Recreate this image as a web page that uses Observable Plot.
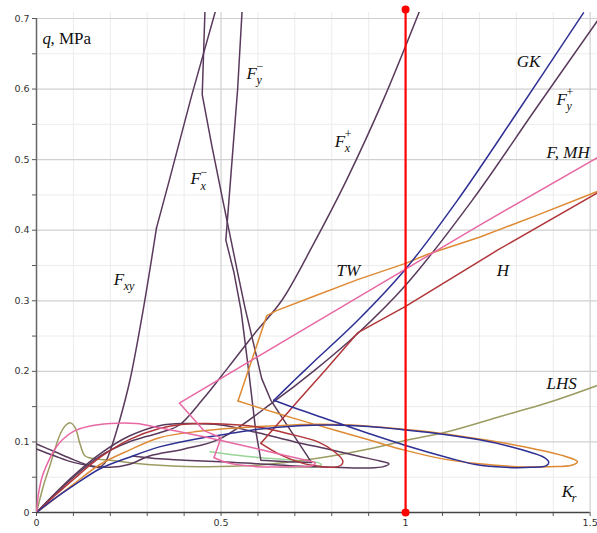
<!DOCTYPE html>
<html><head><meta charset="utf-8">
<script src="https://cdn.jsdelivr.net/npm/d3@7"></script>
<script src="https://cdn.jsdelivr.net/npm/@observablehq/plot@0.6"></script>
<style>body{margin:0;background:#fff}</style>
</head><body><div id="chart"></div>
<script>
// ---- data (K_r, q in MPa) ----
// GK: loop, then rising branch
const gkLoopX = [0,0.05,0.1,0.172,0.25,0.333,0.44,0.55,0.6,0.71,0.8,0.9,1.0,1.1,1.2,1.28,1.34,1.375,1.388,1.38,1.34,1.27,1.19,1.12,1.0,0.9,0.8,0.7,0.643];
const gkLoopY = [0,0.02,0.038,0.062,0.078,0.093,0.105,0.114,0.118,0.123,0.124,0.122,0.117,0.111,0.103,0.094,0.085,0.078,0.071,0.066,0.064,0.064,0.068,0.077,0.095,0.112,0.13,0.148,0.159];
const gkRiseX = [0.643,0.7,0.75,0.87,1.0,1.14,1.3,1.482];
const gkRiseY = [0.159,0.188,0.213,0.272,0.345,0.442,0.565,0.708];

// TW
const twLoopX = [0,0.05,0.1,0.172,0.25,0.333,0.44,0.55,0.65,0.75,0.85,0.95,1.05,1.15,1.25,1.35,1.43,1.466,1.45,1.39,1.3,1.2,1.1,1.0,0.9,0.8,0.7,0.6,0.546];
const twLoopY = [0,0.02,0.04,0.068,0.088,0.106,0.115,0.12,0.123,0.125,0.124,0.12,0.115,0.108,0.1,0.09,0.08,0.072,0.067,0.065,0.065,0.069,0.076,0.088,0.103,0.118,0.133,0.149,0.158];
const twRiseX = [0.546,0.624,0.65,0.75,0.87,1.0,1.06,1.2,1.35,1.52];
const twRiseY = [0.158,0.279,0.286,0.306,0.33,0.353,0.366,0.39,0.42,0.455];

// H
const hLoopX = [0,0.05,0.1,0.172,0.25,0.333,0.4,0.46,0.55,0.6,0.68,0.763,0.81,0.83,0.825,0.8,0.76,0.72,0.66,0.608];
const hLoopY = [0,0.024,0.047,0.078,0.103,0.119,0.125,0.126,0.124,0.121,0.112,0.1,0.085,0.073,0.067,0.064,0.066,0.07,0.082,0.098];
const hRiseX = [0.608,0.71,0.78,0.871,1.0,1.25,1.52];
const hRiseY = [0.098,0.159,0.2,0.255,0.292,0.372,0.453];

// F (pink)
const fLoopX = [0,0.005,0.015,0.03,0.05,0.07,0.1,0.14,0.2,0.27,0.333,0.42,0.5,0.6,0.68,0.73,0.755,0.745,0.7,0.6,0.52,0.481];
const fLoopY = [0,0.025,0.05,0.07,0.09,0.103,0.115,0.122,0.126,0.126,0.12,0.111,0.102,0.09,0.08,0.074,0.07,0.066,0.065,0.065,0.07,0.078];
const fRiseX = [0.481,0.5,0.454,0.387,0.7,1.0,1.2,1.52];
const fRiseY = [0.078,0.106,0.116,0.155,0.252,0.345,0.407,0.503];

// MH (light green, mostly under F)
const mhX = [0.47,0.53,0.6,0.7,0.76,0.772,0.76,0.72,0.66];
const mhY = [0.086,0.082,0.078,0.074,0.071,0.068,0.065,0.064,0.064];

// LHS
const lhsX = [0,0.02,0.038,0.05,0.065,0.08,0.092,0.105,0.118,0.132,0.16,0.2,0.3,0.44,0.6,0.71,0.8,0.9,1.0,1.11,1.25,1.4,1.52];
const lhsY = [0,0.04,0.069,0.09,0.112,0.124,0.127,0.12,0.097,0.08,0.076,0.074,0.068,0.065,0.067,0.073,0.08,0.09,0.102,0.114,0.135,0.158,0.18];

// F_xy
const fxyLowX = [0,0.05,0.1,0.14,0.17,0.185,0.2,0.225,0.253,0.29,0.325];
const fxyLowY = [0.097,0.086,0.075,0.067,0.064,0.07,0.088,0.13,0.187,0.29,0.403];
const fxyTopX = [0.325,0.36,0.42,0.49];
const fxyTopY = [0.403,0.471,0.59,0.72];

// F_x+
const fxpX = [0,0.05,0.1,0.172,0.25,0.3,0.34,0.387,0.45,0.52,0.59,0.664,0.75,0.84,0.94,1.045];
const fxpY = [0,0.026,0.05,0.08,0.1,0.108,0.114,0.124,0.16,0.206,0.253,0.3,0.38,0.471,0.585,0.72];

// F_x-
const fxmX = [0.457,0.449,0.475,0.505,0.545,0.565,0.59,0.61,0.635,0.69,0.745];
const fxmY = [0.72,0.592,0.52,0.442,0.34,0.29,0.235,0.19,0.159,0.115,0.071];

// F_y-
const fymX = [0.558,0.545,0.53,0.513,0.535,0.554,0.575,0.594,0.608,0.68,0.745];
const fymY = [0.72,0.6,0.5,0.386,0.34,0.287,0.2,0.116,0.074,0.072,0.071];

// F_y+
const fypX = [0,0.05,0.1,0.15,0.2,0.25,0.306,0.4,0.495,0.643,0.75,0.871,1.0,1.18,1.35,1.52];
const fypY = [0.09,0.08,0.071,0.066,0.064,0.068,0.08,0.09,0.104,0.157,0.2,0.254,0.322,0.442,0.57,0.697];

// purple loop (tip near 0.95)
const pLoopX = [0,0.05,0.1,0.172,0.25,0.333,0.4,0.5,0.6,0.7,0.78,0.87,0.93,0.955,0.94,0.9,0.8,0.7,0.6,0.5,0.4,0.333,0.26];
const pLoopY = [0,0.027,0.052,0.083,0.108,0.123,0.126,0.124,0.113,0.1,0.091,0.08,0.073,0.069,0.065,0.063,0.064,0.066,0.069,0.072,0.074,0.076,0.08];

// labels
const labelMain = ["F","F","F","F","GK","F","F, MH","TW","H","LHS","K"];
const labelSub  = ["xy","x","y","x","","y","","","","","r"];
const labelSup  = ["","\u2212","\u2212","+","","+","","","","",""];
const labelX    = [0.209,0.417,0.569,0.808,1.301,1.409,1.382,0.813,1.247,1.382,1.423];
const labelY    = [0.330,0.473,0.622,0.526,0.639,0.585,0.51,0.343,0.343,0.183,0.030];

const xMinor = [0.1,0.2,0.3,0.4,0.6,0.7,0.8,0.9,1.1,1.2,1.3,1.4];
const xMajor = [0.5, 1, 1.5];
const yMinor = [0.05,0.15,0.25,0.35,0.45,0.55,0.65];
const yMajor = [0.1,0.2,0.3,0.4,0.5,0.6,0.7];
const xTicks = d3.range(0, 16).map(i => i / 10);
const yTicks = d3.range(0, 15).map(i => i / 20);

const PURPLE = "#5a3a5c", BLUE = "#2e3094", ORANGE = "#de8a34", RED = "#b0363a", PINK = "#e868a4", OLIVE = "#9c9c62", LGREEN = "#98d498";
const toPts = (xs, ys) => xs.map((x, i) => ({x, y: ys[i]}));
const curves = [
  [mhX, mhY, LGREEN, "catmull-rom"],
  [lhsX, lhsY, OLIVE, "catmull-rom"],
  [fxyLowX, fxyLowY, PURPLE, "catmull-rom"],
  [fxyTopX, fxyTopY, PURPLE, "linear"],
  [fxpX, fxpY, PURPLE, "catmull-rom"],
  [fxmX, fxmY, PURPLE, "linear"],
  [fymX, fymY, PURPLE, "linear"],
  [fypX, fypY, PURPLE, "catmull-rom"],
  [pLoopX, pLoopY, PURPLE, "catmull-rom"],
  [twLoopX, twLoopY, ORANGE, "catmull-rom"],
  [twRiseX, twRiseY, ORANGE, "linear"],
  [hLoopX, hLoopY, RED, "catmull-rom"],
  [hRiseX, hRiseY, RED, "linear"],
  [gkLoopX, gkLoopY, BLUE, "catmull-rom"],
  [gkRiseX, gkRiseY, BLUE, "catmull-rom"],
  [fLoopX, fLoopY, PINK, "catmull-rom"],
  [fRiseX, fRiseY, PINK, "linear"]
];

const labels = labelMain.map((t, i) => ({t, sub: labelSub[i], sup: labelSup[i], x: labelX[i], y: labelY[i]}));

const serif = "'Liberation Serif', 'DejaVu Serif', serif";
const fmtX = d => (Math.abs(d * 2 - Math.round(d * 2)) < 1e-9 ? String(+d.toFixed(1)) : "");
const fmtY = d => (Math.abs(d * 10 - Math.round(d * 10)) < 1e-9 ? String(+d.toFixed(1)) : "");

const chart = Plot.plot({
  width: 597, height: 533,
  marginLeft: 36, marginRight: 0, marginTop: 12, marginBottom: 21,
  x: {domain: [0, 1.52], label: null},
  y: {domain: [0, 0.7085], label: null},
  style: {background: "white", fontFamily: "'DejaVu Sans', sans-serif", fontSize: "9.5px", color: "#444"},
  marks: [
    Plot.ruleX(xMinor, {y1: 0, y2: 0.7085, stroke: "#ececec", strokeWidth: 1}),
    Plot.ruleY(yMinor, {x1: 0, x2: 1.52, stroke: "#ececec", strokeWidth: 1}),
    Plot.ruleX(xMajor, {y1: 0, y2: 0.7085, stroke: "#d0d0d0", strokeWidth: 1.2}),
    Plot.ruleY(yMajor, {x1: 0, x2: 1.52, stroke: "#d0d0d0", strokeWidth: 1.2}),
    Plot.axisX(xTicks, {label: null, tickSize: 4, tickPadding: 3, stroke: "#555", tickFormat: fmtX, fill: "#333"}),
    Plot.axisY(yTicks, {label: null, tickSize: 4, tickPadding: 3, stroke: "#555", tickFormat: fmtY, fill: "#333"}),
    Plot.ruleX([0], {y1: 0, y2: 0.7, stroke: "#666", strokeWidth: 1.5}),
    Plot.ruleY([0], {x1: 0, x2: 1.5, stroke: "#444", strokeWidth: 1.5}),
    ...curves.map(([xs, ys, color, curve]) => Plot.line(toPts(xs, ys), {x: "x", y: "y", stroke: color, strokeWidth: 1.5, curve, clip: true})),
    Plot.ruleX([1], {y1: 0, y2: 0.7128, stroke: "#ff0000", strokeWidth: 2.2}),
    Plot.dot([{x: 1, y: 0}, {x: 1, y: 0.7128}], {x: "x", y: "y", r: 4, fill: "#ff0000", stroke: "none"}),
    Plot.text(labels, {x: "x", y: "y", text: "t", textAnchor: "start", fontFamily: serif, fontStyle: "italic", fontSize: 17, fill: "#111"}),
    Plot.text(labels, {x: "x", y: "y", text: "sub", textAnchor: "start", dx: 10, dy: 7, fontFamily: serif, fontStyle: "italic", fontSize: 12, fill: "#111"}),
    Plot.text(labels, {x: "x", y: "y", text: "sup", textAnchor: "start", dx: 10, dy: -7, fontFamily: serif, fontSize: 12, fill: "#111"}),
    Plot.text([{x: 0.016, y: 0.672}], {x: "x", y: "y", text: () => "q", textAnchor: "start", fontFamily: serif, fontStyle: "italic", fontSize: 17, fill: "#111"}),
    Plot.text([{x: 0.016, y: 0.672}], {x: "x", y: "y", text: () => ", MPa", textAnchor: "start", dx: 8, fontFamily: serif, fontSize: 17, fill: "#111"})
  ]
});
document.getElementById("chart").appendChild(chart);
</script></body></html>
